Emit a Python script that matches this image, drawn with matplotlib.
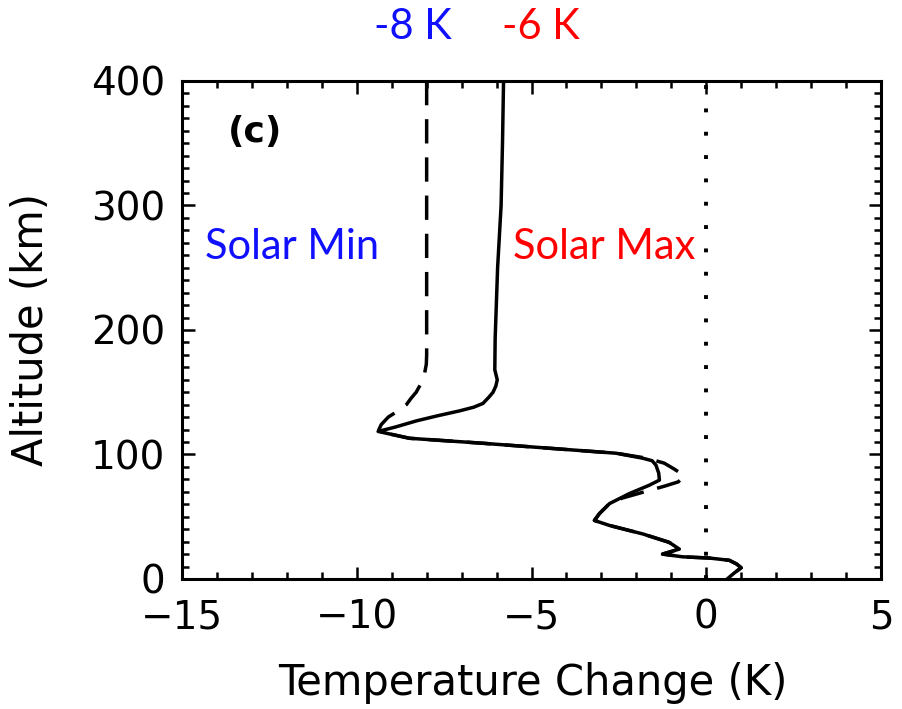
import numpy as np
import matplotlib
matplotlib.use("Agg")
import matplotlib.pyplot as plt
from matplotlib.ticker import MultipleLocator

# temperature response profiles (K) vs altitude (km)
alt_max = [400, 350, 300, 250, 193, 168, 160, 155, 150, 146, 141, 138, 135, 131, 127, 122,
           118.5, 113, 109, 105, 101, 97, 95, 91.5, 85, 79.4, 75.3, 68.6, 60.5, 52.4, 47, 43,
           36.2, 29.4, 24, 20, 17.8, 16.8, 15, 12, 9, 5, 0]
dt_max = [-5.8, -5.83, -5.87, -5.97, -6.04, -6.05, -5.98, -6.02, -6.1, -6.22, -6.39, -6.65,
          -7.06, -7.7, -8.29, -8.9, -9.39, -8.49, -6.39, -4.49, -2.58, -1.82, -1.55, -1.44,
          -1.36, -1.34, -1.63, -2.2, -2.77, -3.06, -3.2, -2.77, -1.82, -1.06, -0.77, -1.25,
          -0.68, 0.09, 0.66, 0.87, 1.0, 0.81, 0.6]

alt_min = [400, 300, 200, 180, 172.5, 165, 157.6, 150, 145, 140, 135, 130, 124, 118.5, 113,
           109, 105, 101, 97, 93, 88, 83, 78, 74.5, 70, 65, 60.5, 52.4, 47, 43, 36.2, 29.4, 24,
           20, 17.8, 16.8, 15, 12, 9, 5, 0]
dt_min = [-8.0, -8.0, -8.0, -8.0, -8.01, -8.06, -8.15, -8.3, -8.45, -8.58, -8.82, -9.1, -9.3,
          -9.39, -8.49, -6.39, -4.49, -2.58, -1.7, -1.2, -0.9, -0.63, -0.8, -1.2, -1.77, -2.4,
          -2.77, -3.06, -3.2, -2.77, -1.82, -1.06, -0.77, -1.25, -0.68, 0.09, 0.66, 0.87, 1.0,
          0.81, 0.6]

xticks = [-15, -10, -5, 0, 5]
yticks = [0, 100, 200, 300, 400]

fig = plt.figure(figsize=(9.02, 7.09), dpi=100)
ax = fig.add_axes([0.2018, 0.1834, 0.7749, 0.7024])

ax.plot(dt_max, alt_max, color='black', lw=2.5, solid_joinstyle='round')
ax.plot(dt_min, alt_min, color='black', lw=2.5, dashes=(7, 4))
ax.axvline(0, color='black', lw=2.8, linestyle=(0, (1, 5)))

ax.set_xlim(-15, 5)
ax.set_ylim(0, 400)
ax.set_xticks(xticks)
ax.set_yticks(yticks)
ax.xaxis.set_minor_locator(MultipleLocator(1))
ax.yaxis.set_minor_locator(MultipleLocator(10))
ax.tick_params(which='both', direction='in', top=True, right=True, width=1.8)
ax.tick_params(which='major', length=9, labelsize=28)
ax.tick_params(axis='y', which='major', pad=12)
ax.tick_params(axis='x', which='major', pad=14)
ax.tick_params(which='minor', length=5)
for sp in ax.spines.values():
    sp.set_linewidth(2.2)

ax.set_xlabel('Temperature Change (K)', fontsize=30)
ax.set_ylabel('Altitude (km)', fontsize=30)
ax.xaxis.set_label_coords(0.502, -0.166)
ax.yaxis.set_label_coords(-0.186, 0.5)

ax.text(-13.7, 359, '(c)', fontsize=26, fontweight='bold', va='center', ha='left')

ax.text(-14.34, 267, 'Solar Min', color='#1010ff', fontsize=30, family='Lato',
        va='center', ha='left')
ax.text(-5.54, 267, 'Solar Max', color='#ff0000', fontsize=30, family='Lato',
        va='center', ha='left')
ax.text(-9.51, 443.7, '-8 K', color='#1010ff', fontsize=30, family='Lato',
        va='center', ha='left', clip_on=False)
ax.text(-5.83, 443.7, '-6 K', color='#ff0000', fontsize=30, family='Lato',
        va='center', ha='left', clip_on=False)

fig.savefig('out.png', dpi=100)
